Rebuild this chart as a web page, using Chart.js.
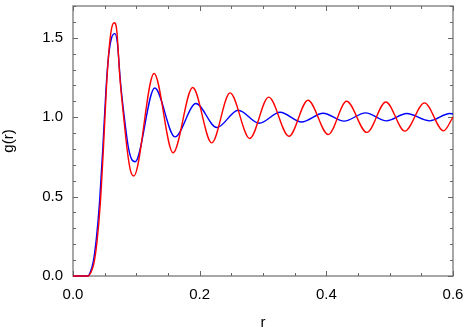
<!DOCTYPE html>
<html>
<head>
<meta charset="utf-8">
<script src="https://cdn.jsdelivr.net/npm/chart.js@4/dist/chart.umd.min.js"></script>
<style>
  html, body { margin: 0; padding: 0; background: #fff; }
  #wrap { width: 470px; height: 332px; }
</style>
</head>
<body>
<div id="wrap"><canvas id="gr"></canvas></div>
<script>
// red curve (r, g): rise, then peaks and troughs
const redR = [0, 0.024, 0.028, 0.033, 0.038, 0.043, 0.048, 0.053, 0.057, 0.061, 0.065, 0.069, 0.074, 0.080, 0.086, 0.091, 0.096,
  0.128, 0.158, 0.189, 0.219, 0.248, 0.279, 0.309, 0.341, 0.371, 0.403, 0.432, 0.464, 0.494, 0.524, 0.555, 0.585, 0.6];
const redG = [0, 0, 0.02, 0.08, 0.22, 0.45, 0.80, 1.20, 1.43, 1.56, 1.595, 1.55, 1.25, 1.0, 0.78, 0.66, 0.63,
  1.275, 0.776, 1.187, 0.838, 1.153, 0.866, 1.126, 0.88, 1.107, 0.891, 1.10, 0.904, 1.096, 0.912, 1.09, 0.914, 1.0];

// blue curve (r, g)
const blueR = [0, 0.023, 0.027, 0.032, 0.037, 0.042, 0.047, 0.052, 0.056, 0.061, 0.066, 0.070, 0.075, 0.081, 0.087, 0.092, 0.098,
  0.129, 0.161, 0.194, 0.227, 0.261, 0.294, 0.327, 0.361, 0.395, 0.428, 0.462, 0.495, 0.527, 0.563, 0.595, 0.6];
const blueG = [0, 0, 0.02, 0.09, 0.24, 0.47, 0.80, 1.17, 1.38, 1.50, 1.526, 1.47, 1.22, 1.0, 0.82, 0.74, 0.719,
  1.184, 0.876, 1.086, 0.935, 1.044, 0.962, 1.031, 0.97, 1.025, 0.975, 1.027, 0.977, 1.023, 0.977, 1.023, 1.02];

const xMin = 0, xMax = 0.6, xStep = 0.05, xLabelStep = 0.2;
const yMin = 0, yMax = 1.7, yStep = 0.1, yLabelStep = 0.5;

function pts(xs, ys) {
  return xs.map((x, i) => ({ x: x, y: ys[i] }));
}

function isMajor(v, step) {
  const q = v / step;
  return Math.abs(q - Math.round(q)) < 1e-6;
}

const frameColor = '#8a8a8a';

// frame + inward ticks on all four sides
const framePlugin = {
  id: 'frame',
  beforeDatasetsDraw(chart) {
    const ctx = chart.ctx;
    const a = chart.chartArea;
    const xs = chart.scales.x, ys = chart.scales.y;
    ctx.save();
    ctx.strokeStyle = frameColor;
    ctx.lineWidth = 1.5;
    ctx.strokeRect(a.left, a.top, a.right - a.left, a.bottom - a.top);
    ctx.lineWidth = 1;
    ctx.strokeStyle = '#666';
    ctx.beginPath();
    xs.ticks.forEach(t => {
      const px = Math.round(xs.getPixelForValue(t.value)) + 0.5;
      const len = isMajor(t.value, xLabelStep) ? 5 : 3;
      ctx.moveTo(px, a.bottom); ctx.lineTo(px, a.bottom - len);
      ctx.moveTo(px, a.top); ctx.lineTo(px, a.top + len);
    });
    ys.ticks.forEach(t => {
      const py = Math.round(ys.getPixelForValue(t.value)) + 0.5;
      const len = isMajor(t.value, yLabelStep) ? 5 : 3;
      ctx.moveTo(a.left, py); ctx.lineTo(a.left + len, py);
      ctx.moveTo(a.right, py); ctx.lineTo(a.right - len, py);
    });
    ctx.stroke();
    ctx.restore();
  }
};

const font = { family: '"Liberation Sans", Arial, Helvetica, sans-serif', size: 15 };

new Chart(document.getElementById('gr'), {
  type: 'line',
  data: {
    datasets: [
      { data: pts(redR, redG), borderColor: '#ff0000', borderWidth: 1.4, pointRadius: 0, cubicInterpolationMode: 'monotone', clip: 3 },
      { data: pts(blueR, blueG), borderColor: '#0000ff', borderWidth: 1.4, pointRadius: 0, cubicInterpolationMode: 'monotone', clip: 3 }
    ]
  },
  options: {
    responsive: true,
    maintainAspectRatio: false,
    animation: false,
    layout: { padding: { top: 6, right: 17, left: 0, bottom: 0 } },
    plugins: { legend: { display: false }, tooltip: { enabled: false } },
    scales: {
      x: {
        type: 'linear', min: xMin, max: xMax,
        border: { display: false },
        grid: { display: false, drawTicks: false },
        ticks: {
          stepSize: xStep, autoSkip: false, maxRotation: 0, padding: 10, color: '#000', font: font,
          callback: v => isMajor(v, xLabelStep) ? v.toFixed(1) : ''
        },
        title: { display: true, text: 'r', color: '#000', font: font, padding: { top: 4, bottom: 0 } },
        afterFit: s => { s.height = 56; s.paddingLeft = 0; s.paddingRight = 0; }
      },
      y: {
        type: 'linear', min: yMin, max: yMax,
        border: { display: false },
        grid: { display: false, drawTicks: false },
        ticks: {
          stepSize: yStep, autoSkip: false, padding: 10, color: '#000', font: font,
          callback: v => isMajor(v, yLabelStep) ? v.toFixed(1) : ''
        },
        title: { display: true, text: 'g(r)', color: '#000', font: font, padding: { top: 0, bottom: 4 } },
        afterFit: s => { s.width = 73; s.paddingTop = 0; s.paddingBottom = 0; }
      }
    }
  },
  plugins: [framePlugin]
});
</script>
</body>
</html>
